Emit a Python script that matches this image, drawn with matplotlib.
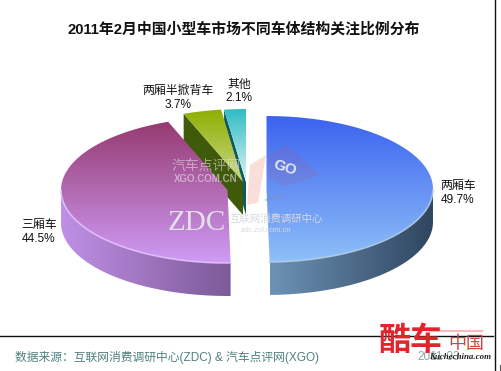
import numpy as np
import matplotlib
matplotlib.use("Agg")
import matplotlib.pyplot as plt
from matplotlib.patches import PathPatch
from matplotlib.path import Path
from matplotlib.colors import LinearSegmentedColormap as LSC

SANS = ['Liberation Sans', 'Noto Sans CJK SC']
plt.rcParams['font.family'] = SANS

TITLE = "2011年2月中国小型车市场不同车体结构关注比例分布"
SOURCE = "数据来源：互联网消费调研中心(ZDC) & 汽车点评网(XGO)"
categories = ["两厢车", "三厢车", "两厢半掀背车", "其他"]
values = [49.7, 44.5, 3.7, 2.1]
top_colors = [("#3c63f0", "#8fc0f8"), ("#963a70", "#cf9cf6"), ("#8fae00", "#c9d98a"), ("#2fbcc4", "#dff5f5")]
side_colors = [("#6d93b5", "#2f4560"), ("#c08fe6", "#7d5a98"), ("#3f5a08", "#3f5a08"), ("#0f5a60", "#0f5a60")]
rim_colors = ["#b4cfe6", "#e6c6ff", None, None]

centers = [(266.5, 189), (227.5, 190), (243, 182), (246, 182)]
RX, RY, DEPTH = 166.5, 73, 33

fig = plt.figure(figsize=(5.02, 3.71), dpi=100)
ax = fig.add_axes([0, 0, 1, 1])
ax.set_xlim(0, 502); ax.set_ylim(371, 0); ax.axis("off")


def grad(cols, extent, z, vertical=True):
    g = np.linspace(0, 1, 256)
    g = g[:, None] if vertical else g[None, :]
    return ax.imshow(g, extent=extent, cmap=LSC.from_list("g", cols), aspect="auto",
                     vmin=0, vmax=1, zorder=z, interpolation="bilinear")


def clip(im, verts):
    p = PathPatch(Path(verts), transform=ax.transData, fc="none", ec="none", zorder=0)
    ax.add_patch(p)
    im.set_clip_path(p)


def pt(c, a):
    return np.c_[c[0] + RX*np.sin(a), c[1] - RY*np.cos(a)]


start = 0.0
angles = []
for v in values:
    end = start + v/100*2*np.pi
    angles.append((start, end))
    start = end

# z-order: smallest slices at the back, then the purple one, then the blue one
layer = {3: 2.0, 2: 2.2, 1: 2.4, 0: 2.6}
for i, (a0, a1) in enumerate(angles):
    c = centers[i]
    z = layer[i]
    ts = np.linspace(a0, a1, 200)
    arc = pt(c, ts)
    if i >= 2:
        e = arc[0]
        face = np.array([e, c, (c[0], c[1]+DEPTH), (e[0], e[1]+DEPTH)])
        ax.fill(face[:, 0], face[:, 1], color=side_colors[i][0], lw=0, zorder=z)
    else:
        front = arc[(ts > np.pi/2) & (ts < 3*np.pi/2)]
        wall = np.vstack([front, (front + [0, DEPTH])[::-1]])
        x0, x1 = wall[:, 0].min(), wall[:, 0].max()
        y0, y1 = wall[:, 1].min(), wall[:, 1].max()
        clip(grad(side_colors[i], (x0, x1, y1, y0), z, vertical=False), wall)
    top = np.vstack([[c], arc])
    y0, y1 = top[:, 1].min(), top[:, 1].max()
    x0, x1 = top[:, 0].min(), top[:, 0].max()
    clip(grad(top_colors[i], (x0, x1, y1, y0), z + 0.05), top)
    if rim_colors[i]:
        front = arc[(ts > np.pi/2) & (ts < 3*np.pi/2)]
        ax.plot(front[:, 0], front[:, 1], color=rim_colors[i], lw=1.2, alpha=.8, zorder=z + 0.1)

ax.set_xlim(0, 502); ax.set_ylim(371, 0)

# watermarks
ax.fill([250, 266, 258, 247], [165, 155, 203, 205], color="#f6c4ba", alpha=.55, lw=0, zorder=1)
ax.fill([268, 287, 320, 285, 268], [155, 145, 175, 186, 178], color="#a05a90", alpha=.18, lw=0, zorder=5)
ax.plot([266, 283], [200, 194], color="#8090b0", alpha=.4, lw=1.5, zorder=5)
ax.text(285, 168, "GO", fontsize=11, color="#dfe6f4", ha="center", va="center", zorder=5.1, rotation=-18,
        weight="bold")
ax.text(206, 166, "汽车点评网", fontsize=10, color="#e0d8e4", ha="center", va="center", zorder=5, alpha=.6)
ax.text(206, 179, "XGO.COM.CN", fontsize=7, color="#e0d8e4", ha="center", va="center", zorder=5, alpha=.65,
        weight="bold")
ax.text(197, 223, "ZDC", fontsize=21, color="#e2e0ec", ha="center", va="center", zorder=5,
        family="Liberation Serif")
ax.text(276, 219, "互联网消费调研中心", fontsize=7.5, color="#d6d9e0", ha="center", va="center", zorder=5)
ax.text(266, 230, "zdc.zol.com.cn", fontsize=5.5, color="#d6d9e0", ha="center", va="center", zorder=5)

# title and labels
ax.text(243.5, 29, TITLE, fontsize=10.7, weight="bold", color="#111111", ha="center", va="center", zorder=6)
lab = dict(fontsize=8.6, color="#111111", ha="center", va="center", zorder=6, linespacing=1.2)
ax.text(458, 193, f"{categories[0]}\n{values[0]}%", **lab)
ax.text(39, 232, f"{categories[1]}\n{values[1]}%", **lab)
ax.text(178, 98, f"{categories[2]}\n{values[2]}%", **lab)
ax.text(239, 91.5, f"{categories[3]}\n{values[3]}%", **lab)

# frame and footer
ax.plot([495, 495], [0, 371], color="#111111", lw=1, zorder=6)
ax.plot([0, 493], [335.5, 335.5], color="#111111", lw=1, zorder=6)
ax.plot([500, 500], [365, 371], color="#555555", lw=.8, zorder=6)
ax.text(15, 358, SOURCE, fontsize=8.5, color="#4f8080", ha="left", va="center", zorder=6)
ax.text(439, 357, "2011-03", fontsize=8.5, color="#8aa5a5", ha="center", va="center", zorder=6)
ax.text(411, 342, "酷车", fontsize=23, color="#e0262c", weight="bold",
        ha="center", va="center", zorder=7)
ax.plot([430, 482], [331, 331], color="#f0a0a0", lw=1.5, alpha=.7, zorder=6.5)
ax.text(466, 344, "中国", fontsize=13, color="#d94040", ha="center", va="center", zorder=7)
ax.text(460, 357, "Kuchechina.com", fontsize=6.4, color="#222222", weight="bold", style="italic",
        ha="center", va="center", zorder=8, family="Liberation Serif")

fig.savefig("out.png", dpi=100)
